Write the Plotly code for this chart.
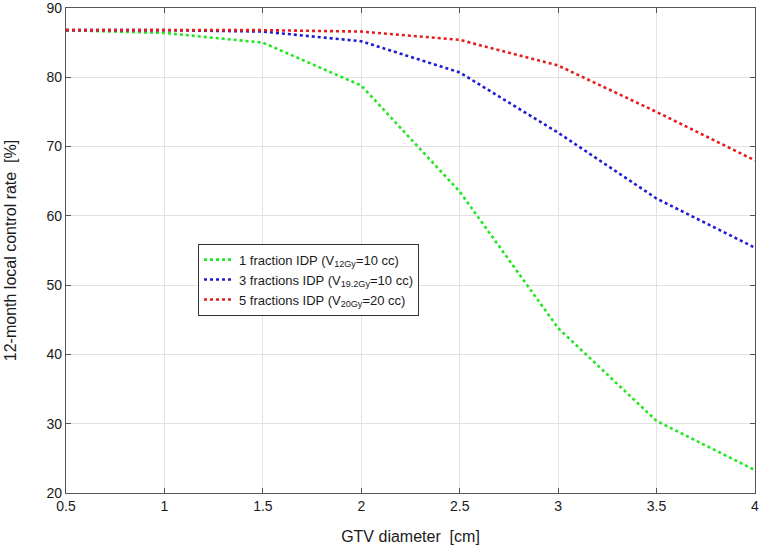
import plotly.graph_objects as go

gtv_diameter = [0.5, 1.0, 1.5, 2.0, 2.5, 3.0, 3.5, 4.0]
one_fraction = [86.8, 86.4, 85.0, 78.8, 63.5, 43.8, 30.4, 23.3]
three_fractions = [86.8, 86.8, 86.6, 85.2, 80.7, 72.0, 62.5, 55.4]
five_fractions = [86.8, 86.8, 86.8, 86.6, 85.4, 81.7, 75.0, 68.0]

series_names = [
    "1 fraction IDP (V<sub>12Gy</sub>=10 cc)",
    "3 fractions IDP (V<sub>19.2Gy</sub>=10 cc)",
    "5 fractions IDP (V<sub>20Gy</sub>=20 cc)",
]
series_values = [one_fraction, three_fractions, five_fractions]
series_colors = ["#22e622", "#1c1cd4", "#e61c1c"]

x_ticks = [0.5, 1, 1.5, 2, 2.5, 3, 3.5, 4]
x_tick_labels = ["0.5", "1", "1.5", "2", "2.5", "3", "3.5", "4"]
y_ticks = [20, 30, 40, 50, 60, 70, 80, 90]

FONT = "Liberation Sans, Arial, sans-serif"

fig = go.Figure()
for name, vals, col in zip(series_names, series_values, series_colors):
    fig.add_trace(go.Scatter(
        x=gtv_diameter, y=vals, mode="lines", name=name,
        line=dict(color=col, width=2.6, dash="dot"),
    ))

axis_common = dict(
    showline=True, linecolor="#555555", linewidth=1.2, mirror="ticks",
    ticks="inside", ticklen=5, tickcolor="#555555", tickwidth=1,
    showgrid=True, gridcolor="#e2e2e2", gridwidth=1, zeroline=False,
    automargin=False, ticklabeloverflow="allow",
    tickfont=dict(family=FONT, size=14, color="#1a1a1a"),
)

fig.update_layout(
    width=761, height=547,
    margin=dict(l=66, r=6, t=8, b=54),
    paper_bgcolor="white", plot_bgcolor="white",
    font=dict(family=FONT, size=14, color="#1a1a1a"),
    xaxis=dict(range=[0.5, 4], tickvals=x_ticks, ticktext=x_tick_labels,
               title=dict(text="GTV diameter  [cm]", standoff=17,
                          font=dict(family=FONT, size=16)), **axis_common),
    yaxis=dict(range=[20, 90], tickvals=y_ticks,
               title=dict(text="12-month local control rate  [%]", standoff=25,
                          font=dict(family=FONT, size=16)), **axis_common),
    legend=dict(x=0.1916, y=0.514, xanchor="left", yanchor="top",
                bgcolor="white", bordercolor="#333333", borderwidth=1,
                font=dict(family=FONT, size=13), tracegroupgap=0, itemwidth=30),
    showlegend=True,
)

fig.write_html("out.html", config={"displayModeBar": False},
               post_script="document.body.style.margin='0';document.body.style.overflow='hidden';")
